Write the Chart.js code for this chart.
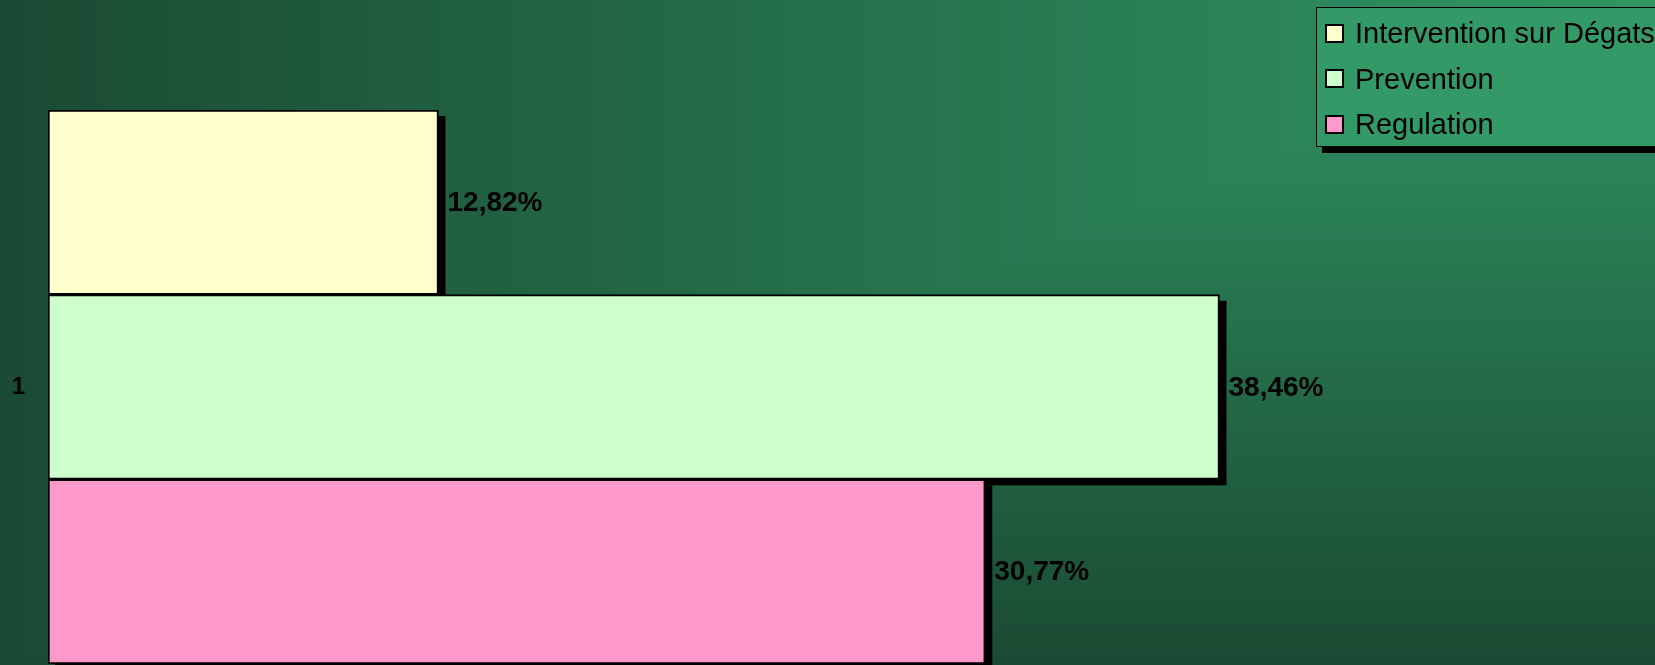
<!DOCTYPE html>
<html>
<head>
<meta charset="utf-8">
<title>Répartition des interventions</title>
<script src="https://cdn.jsdelivr.net/npm/chart.js@4.4.1/dist/chart.umd.min.js"></script>
<style>
  html, body { margin: 0; padding: 0; overflow: hidden; background: #1a4a33; }
  #wrap { position: relative; width: 1655px; height: 665px; }
  #chart { display: block; }
  #legend {
    position: absolute; left: 1316px; top: 7px; width: 360px; height: 138px;
    background: #339966; border: 1px solid #000; box-shadow: 6px 6px 0 #000;
    font-family: "Liberation Sans", Arial, sans-serif; font-size: 29px; color: #000;
  }
  #legend .item { position: absolute; left: 8px; height: 32px; line-height: 32px; white-space: nowrap; }
  #legend .box {
    display: inline-block; width: 15px; height: 15px; border: 2px solid #000;
    vertical-align: middle; margin-right: 11px; position: relative; top: -2px;
  }
</style>
</head>
<body>
<div id="wrap">
  <canvas id="chart" width="1655" height="665"></canvas>
  <div id="legend"></div>
</div>
<script>
// chart data
const categories = ['1'];
const seriesLabels = ['Intervention sur Dégats', 'Prevention', 'Regulation'];
const interventionValues = [12.82];
const preventionValues = [38.46];
const regulationValues = [30.77];
const seriesColors = ['#FFFFCC', '#CCFFCC', '#FF99CC'];

const FONT = '"Liberation Sans", Arial, sans-serif';

// Excel style "from corner" gradient: light at top right, dark towards the other edges
const cornerBackground = {
  id: 'cornerBackground',
  beforeDraw(chart) {
    const ctx = chart.ctx;
    const w = chart.width, h = chart.height;
    const light = '#309663', dark = '#1a4a33';
    ctx.save();
    // whole area: vertical ramp
    let g = ctx.createLinearGradient(0, 0, 0, h);
    g.addColorStop(0, light); g.addColorStop(1, dark);
    ctx.fillStyle = g;
    ctx.fillRect(0, 0, w, h);
    // upper-left triangle: horizontal ramp on top
    ctx.beginPath();
    ctx.moveTo(0, 0); ctx.lineTo(w, 0); ctx.lineTo(0, h); ctx.closePath();
    g = ctx.createLinearGradient(w, 0, 0, 0);
    g.addColorStop(0, light); g.addColorStop(1, dark);
    ctx.fillStyle = g;
    ctx.fill();
    ctx.restore();
  }
};

// hard black drop shadow behind each bar
const barShadows = {
  id: 'barShadows',
  beforeDatasetsDraw(chart) {
    const ctx = chart.ctx;
    ctx.save();
    ctx.fillStyle = '#000';
    chart.data.datasets.forEach((ds, i) => {
      chart.getDatasetMeta(i).data.forEach(bar => {
        const p = bar.getProps(['x', 'y', 'base', 'height'], true);
        const left = Math.min(p.x, p.base), right = Math.max(p.x, p.base);
        ctx.fillRect(left + 7, p.y - p.height / 2 + 6, right - left, p.height);
      });
    });
    ctx.restore();
  }
};

// value labels to the right of each bar
const valueLabels = {
  id: 'valueLabels',
  afterDatasetsDraw(chart) {
    const ctx = chart.ctx;
    ctx.save();
    ctx.font = 'bold 28px ' + FONT;
    ctx.fillStyle = '#000';
    ctx.textAlign = 'left';
    ctx.textBaseline = 'middle';
    chart.data.datasets.forEach((ds, i) => {
      chart.getDatasetMeta(i).data.forEach((bar, j) => {
        const txt = ds.data[j].toFixed(2).replace('.', ',') + '%';
        ctx.fillText(txt, bar.x + 9, bar.y + 1);
      });
    });
    ctx.restore();
  }
};

const valueSets = [interventionValues, preventionValues, regulationValues];

const chart = new Chart(document.getElementById('chart'), {
  type: 'bar',
  data: {
    labels: categories,
    datasets: valueSets.map((vals, i) => ({
      label: seriesLabels[i],
      data: vals,
      backgroundColor: seriesColors[i],
      borderColor: '#000',
      borderWidth: 2,
      borderSkipped: false,
      categoryPercentage: 1,
      barPercentage: 1
    }))
  },
  options: {
    indexAxis: 'y',
    responsive: false,
    animation: false,
    layout: {
      padding: { top: 110, bottom: 1, left: 0, right: 84 }
    },
    plugins: {
      legend: { display: false },
      tooltip: { enabled: false }
    },
    scales: {
      x: {
        display: false,
        min: 0,
        max: 50
      },
      y: {
        grid: { display: false, drawTicks: false },
        border: { display: false },
        ticks: {
          color: '#000',
          padding: 23,
          font: { family: FONT, size: 24, weight: 'bold' }
        },
        afterFit(scale) {
          scale.width = 48;
          // tick padding should only push the label left, not shrink the plot vertically
          scale.paddingTop = 0;
          scale.paddingBottom = 0;
        }
      }
    }
  },
  plugins: [cornerBackground, barShadows, valueLabels]
});

// legend built from the datasets
const legendEl = document.getElementById('legend');
chart.data.datasets.forEach((ds, i) => {
  const item = document.createElement('div');
  item.className = 'item';
  item.style.top = (9 + i * 45.5) + 'px';
  const box = document.createElement('span');
  box.className = 'box';
  box.style.background = ds.backgroundColor;
  item.appendChild(box);
  item.appendChild(document.createTextNode(ds.label));
  legendEl.appendChild(item);
});
</script>
</body>
</html>
